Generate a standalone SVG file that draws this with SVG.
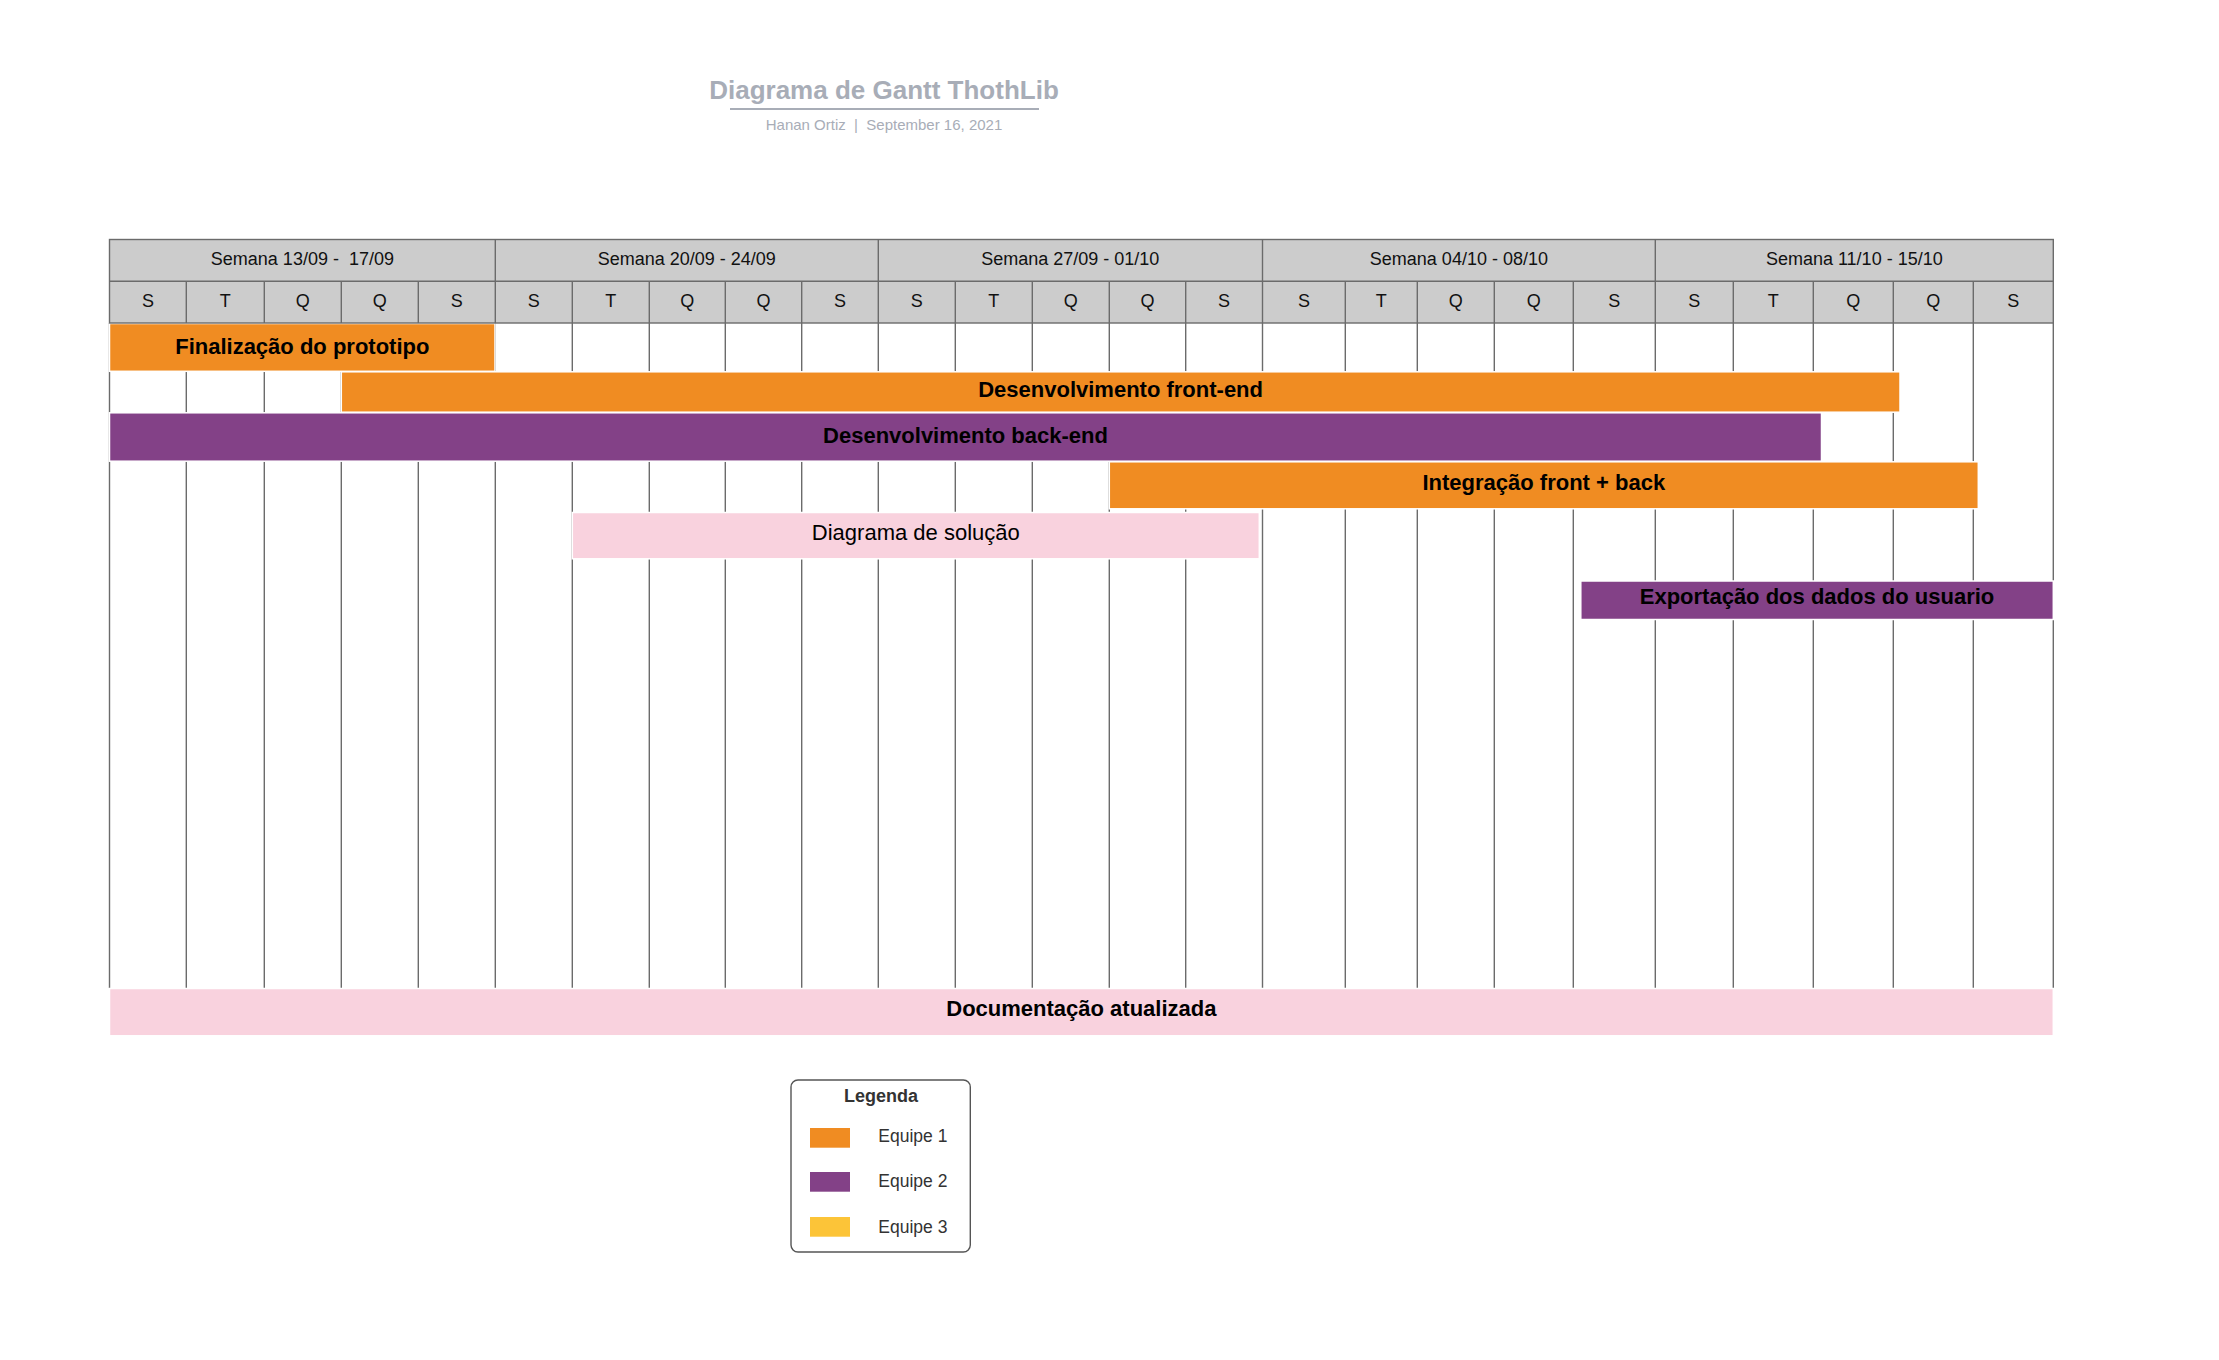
<svg xmlns="http://www.w3.org/2000/svg" width="2219" height="1360" viewBox="0 0 2219 1360">
<style>
text{font-family:"Liberation Sans",Arial,sans-serif}
.grid line{stroke:#6b6b6b;stroke-width:1.4}
.hdr{fill:#cccccc;stroke:#6b6b6b;stroke-width:1.4}
.hl{stroke:#6b6b6b;stroke-width:1.4}
.wk{font-size:18px;fill:#111;text-anchor:middle}
.day{font-size:18px;fill:#111;text-anchor:middle}
.bar{stroke:#ffffff;stroke-width:1.5}
.o{fill:#f08c22}
.p{fill:#834187}
.k{fill:#f9d2de}
.y{fill:#fcc438}
.lbl{font-size:22px;font-weight:bold;fill:#000;text-anchor:middle}
.lblr{font-size:22px;fill:#000;text-anchor:middle}
.leg{font-size:17.5px;fill:#333}
</style>
<rect width="2219" height="1360" fill="#ffffff"/>
<g id="title">
<text x="884" y="98.5" font-size="26" font-weight="bold" fill="#a8adb7" text-anchor="middle">Diagrama de Gantt ThothLib</text>
<line x1="730" y1="109" x2="1039" y2="109" stroke="#a8adb7" stroke-width="2"/>
<text x="884" y="129.5" font-size="15" fill="#a8adb7" text-anchor="middle" style="white-space:pre">Hanan Ortiz  |  September 16, 2021</text>
</g>
<g id="grid" class="grid">
<line x1="109.5" y1="323" x2="109.5" y2="988"/>
<line x1="186.3" y1="323" x2="186.3" y2="988"/>
<line x1="264.3" y1="323" x2="264.3" y2="988"/>
<line x1="341.3" y1="323" x2="341.3" y2="988"/>
<line x1="418.3" y1="323" x2="418.3" y2="988"/>
<line x1="495.3" y1="323" x2="495.3" y2="988"/>
<line x1="572.3" y1="323" x2="572.3" y2="988"/>
<line x1="649.3" y1="323" x2="649.3" y2="988"/>
<line x1="725.3" y1="323" x2="725.3" y2="988"/>
<line x1="801.7" y1="323" x2="801.7" y2="988"/>
<line x1="878.3" y1="323" x2="878.3" y2="988"/>
<line x1="955.3" y1="323" x2="955.3" y2="988"/>
<line x1="1032.3" y1="323" x2="1032.3" y2="988"/>
<line x1="1109.3" y1="323" x2="1109.3" y2="988"/>
<line x1="1185.7" y1="323" x2="1185.7" y2="988"/>
<line x1="1262.5" y1="323" x2="1262.5" y2="988"/>
<line x1="1345.3" y1="323" x2="1345.3" y2="988"/>
<line x1="1417.3" y1="323" x2="1417.3" y2="988"/>
<line x1="1494.3" y1="323" x2="1494.3" y2="988"/>
<line x1="1573.3" y1="323" x2="1573.3" y2="988"/>
<line x1="1655.3" y1="323" x2="1655.3" y2="988"/>
<line x1="1733.3" y1="323" x2="1733.3" y2="988"/>
<line x1="1813.3" y1="323" x2="1813.3" y2="988"/>
<line x1="1893.3" y1="323" x2="1893.3" y2="988"/>
<line x1="1973.3" y1="323" x2="1973.3" y2="988"/>
<line x1="2053.3" y1="323" x2="2053.3" y2="988"/>
</g>
<g id="connectors"></g>
<g id="task-finalizacao">
<rect class="bar o" x="109.5" y="323.5" width="385.5" height="47.8"/>
<text class="lbl" x="302.3" y="353.5">Finalização do prototipo</text>
</g>
<g id="task-frontend">
<rect class="bar o" x="341.3" y="371.8" width="1558.7" height="40.4"/>
<text class="lbl" x="1120.6" y="396.5">Desenvolvimento front-end</text>
</g>
<g id="task-backend">
<rect class="bar p" x="109.5" y="412.8" width="1712" height="48.4"/>
<text class="lbl" x="965.5" y="442.5">Desenvolvimento back-end</text>
</g>
<g id="task-integracao">
<rect class="bar o" x="1109.3" y="461.8" width="869" height="47"/>
<text class="lbl" x="1543.8" y="490">Integração front + back</text>
</g>
<g id="task-diagrama">
<rect class="bar k" x="572.3" y="512.5" width="687" height="46.3"/>
<text class="lblr" x="915.8" y="540">Diagrama de solução</text>
</g>
<g id="task-exportacao">
<rect class="bar p" x="1580.8" y="581" width="472.5" height="38.5"/>
<text class="lbl" x="1817" y="604">Exportação dos dados do usuario</text>
</g>
<g id="task-documentacao">
<rect class="bar k" x="109.5" y="988.5" width="1943.8" height="47.3"/>
<text class="lbl" x="1081.4" y="1016">Documentação atualizada</text>
</g>
<g id="header">
<rect class="hdr" x="109.5" y="239.5" width="1943.8" height="83.5"/>
<line class="hl" x1="109.5" y1="281.3" x2="2053.3" y2="281.3"/>
<line class="hl" x1="495.3" y1="239.5" x2="495.3" y2="323"/>
<line class="hl" x1="878.3" y1="239.5" x2="878.3" y2="323"/>
<line class="hl" x1="1262.5" y1="239.5" x2="1262.5" y2="323"/>
<line class="hl" x1="1655.3" y1="239.5" x2="1655.3" y2="323"/>
<line class="hl" x1="186.3" y1="281.3" x2="186.3" y2="323"/>
<line class="hl" x1="264.3" y1="281.3" x2="264.3" y2="323"/>
<line class="hl" x1="341.3" y1="281.3" x2="341.3" y2="323"/>
<line class="hl" x1="418.3" y1="281.3" x2="418.3" y2="323"/>
<line class="hl" x1="572.3" y1="281.3" x2="572.3" y2="323"/>
<line class="hl" x1="649.3" y1="281.3" x2="649.3" y2="323"/>
<line class="hl" x1="725.3" y1="281.3" x2="725.3" y2="323"/>
<line class="hl" x1="801.7" y1="281.3" x2="801.7" y2="323"/>
<line class="hl" x1="955.3" y1="281.3" x2="955.3" y2="323"/>
<line class="hl" x1="1032.3" y1="281.3" x2="1032.3" y2="323"/>
<line class="hl" x1="1109.3" y1="281.3" x2="1109.3" y2="323"/>
<line class="hl" x1="1185.7" y1="281.3" x2="1185.7" y2="323"/>
<line class="hl" x1="1345.3" y1="281.3" x2="1345.3" y2="323"/>
<line class="hl" x1="1417.3" y1="281.3" x2="1417.3" y2="323"/>
<line class="hl" x1="1494.3" y1="281.3" x2="1494.3" y2="323"/>
<line class="hl" x1="1573.3" y1="281.3" x2="1573.3" y2="323"/>
<line class="hl" x1="1733.3" y1="281.3" x2="1733.3" y2="323"/>
<line class="hl" x1="1813.3" y1="281.3" x2="1813.3" y2="323"/>
<line class="hl" x1="1893.3" y1="281.3" x2="1893.3" y2="323"/>
<line class="hl" x1="1973.3" y1="281.3" x2="1973.3" y2="323"/>
<text class="wk" x="302.4" y="265" style="white-space:pre">Semana 13/09 -  17/09</text>
<text class="wk" x="686.8" y="265">Semana 20/09 - 24/09</text>
<text class="wk" x="1070.3" y="265">Semana 27/09 - 01/10</text>
<text class="wk" x="1458.9" y="265">Semana 04/10 - 08/10</text>
<text class="wk" x="1854.3" y="265">Semana 11/10 - 15/10</text>
<text class="day" x="147.9" y="306.5">S</text>
<text class="day" x="225.3" y="306.5">T</text>
<text class="day" x="302.8" y="306.5">Q</text>
<text class="day" x="379.8" y="306.5">Q</text>
<text class="day" x="456.8" y="306.5">S</text>
<text class="day" x="533.8" y="306.5">S</text>
<text class="day" x="610.8" y="306.5">T</text>
<text class="day" x="687.3" y="306.5">Q</text>
<text class="day" x="763.5" y="306.5">Q</text>
<text class="day" x="840" y="306.5">S</text>
<text class="day" x="916.8" y="306.5">S</text>
<text class="day" x="993.8" y="306.5">T</text>
<text class="day" x="1070.8" y="306.5">Q</text>
<text class="day" x="1147.5" y="306.5">Q</text>
<text class="day" x="1224.1" y="306.5">S</text>
<text class="day" x="1303.9" y="306.5">S</text>
<text class="day" x="1381.3" y="306.5">T</text>
<text class="day" x="1455.8" y="306.5">Q</text>
<text class="day" x="1533.8" y="306.5">Q</text>
<text class="day" x="1614.3" y="306.5">S</text>
<text class="day" x="1694.3" y="306.5">S</text>
<text class="day" x="1773.3" y="306.5">T</text>
<text class="day" x="1853.3" y="306.5">Q</text>
<text class="day" x="1933.3" y="306.5">Q</text>
<text class="day" x="2013.3" y="306.5">S</text>
</g>
<g id="legend">
<rect x="791" y="1080" width="179.3" height="172" rx="7" ry="7" fill="#ffffff" stroke="#555" stroke-width="1.4"/>
<text x="881" y="1102" font-size="18" font-weight="bold" fill="#333" text-anchor="middle">Legenda</text>
<rect class="o" x="810" y="1128" width="40" height="19.7"/>
<text class="leg" x="878.3" y="1141.7">Equipe 1</text>
<rect class="p" x="810" y="1172" width="40" height="19.7"/>
<text class="leg" x="878.3" y="1187.3">Equipe 2</text>
<rect class="y" x="810" y="1217" width="40" height="19.7"/>
<text class="leg" x="878.3" y="1232.7">Equipe 3</text>
</g>
</svg>
